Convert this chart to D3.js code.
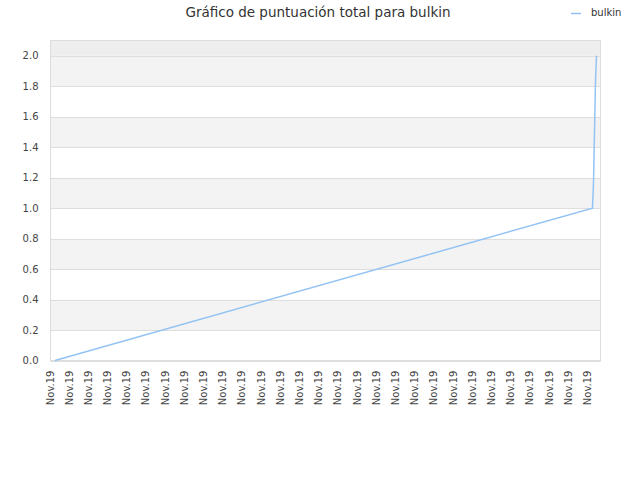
<!DOCTYPE html>
<html>
<head>
<meta charset="utf-8">
<script src="https://cdn.jsdelivr.net/npm/d3@7"></script>
<style>
  body { margin: 0; background: #fff; }
  text { font-family: "DejaVu Sans", sans-serif; }
</style>
</head>
<body>
<div id="container"></div>
<script>
const title = "Gráfico de puntuación total para bulkin";
const seriesName = "bulkin";
const times = ["2019-11-01T00:00", "2019-11-29T00:00", "2019-11-29T01:15", "2019-11-29T02:30", "2019-11-29T03:45", "2019-11-29T05:00"];
const scores = [0, 1.0, 1.1667, 1.5, 1.8333, 2.0];
const yTicks = [0, 0.2, 0.4, 0.6, 0.8, 1.0, 1.2, 1.4, 1.6, 1.8, 2.0];
const xTickCount = 29;
const xTickLabel = "Nov.19";

const width = 640;
const height = 480;
const plot = { left: 50.5, right: 600.5, top: 40.5, bottom: 360.5 };
const lineColor = "#92c3f4";

const parse = d3.timeParse("%Y-%m-%dT%H:%M");
const values = times.map((t, i) => ({ t: parse(t), v: scores[i] }));

let x = d3.scaleTime()
    .domain(d3.extent(values, d => d.t))
    .range([55, 596.5]);

let y = d3.scaleLinear()
    .domain([0, 2.1])
    .range([plot.bottom, plot.top]);

let svg = d3.select("#container").append("svg")
    .attr("width", width)
    .attr("height", height);

// alternating bands
let bands = yTicks.map((d, i) => ({ lo: d, hi: i < yTicks.length - 1 ? yTicks[i + 1] : y.domain()[1], i: i }));
svg.append("g")
    .selectAll("rect")
    .data(bands)
    .join("rect")
    .attr("x", plot.left)
    .attr("width", plot.right - plot.left)
    .attr("y", d => y(d.hi))
    .attr("height", d => y(d.lo) - y(d.hi))
    .attr("fill", d => d.i === yTicks.length - 1 ? "#eeeeee" : (d.i % 2 ? "#f3f3f3" : "#ffffff"));

// grid
svg.append("g")
    .attr("stroke", "#dedede")
    .selectAll("line")
    .data(yTicks)
    .join("line")
    .attr("x1", plot.left)
    .attr("x2", plot.right)
    .attr("y1", d => Math.round(y(d)) + 0.5)
    .attr("y2", d => Math.round(y(d)) + 0.5);

svg.append("rect")
    .attr("x", plot.left)
    .attr("y", plot.top)
    .attr("width", plot.right - plot.left)
    .attr("height", plot.bottom - plot.top)
    .attr("fill", "none")
    .attr("stroke", "#dddddd");

// y axis
let yAxis = g => g
    .attr("transform", `translate(${plot.left},0)`)
    .call(d3.axisLeft(y).tickValues(yTicks).tickFormat(d3.format(".1f")).tickSize(0).tickPadding(12))
    .call(g => g.select(".domain").remove())
    .call(g => g.selectAll("text")
        .attr("fill", "#444")
        .style("font-size", "10px")
        .style("font-family", "DejaVu Sans, sans-serif"));
svg.append("g").call(yAxis);

// x axis
let t0 = values[0].t, t1 = values[1].t;
let xTicks = d3.range(xTickCount).map(i => new Date(+t0 + i * (t1 - t0) / (xTickCount - 1)));
let xAxis = g => g
    .attr("transform", `translate(0,${plot.bottom})`)
    .call(d3.axisBottom(x).tickValues(xTicks).tickFormat(() => xTickLabel).tickSize(0).tickPadding(0))
    .call(g => g.select(".domain").remove())
    .call(g => g.selectAll("text")
        .attr("fill", "#444")
        .attr("text-anchor", "end")
        .attr("transform", "translate(-2,10) rotate(-90)")
        .attr("dy", 0)
        .attr("y", 0)
        .style("font-size", "10px")
        .style("font-family", "DejaVu Sans, sans-serif"));
svg.append("g").call(xAxis);

// series line
let line = d3.line()
    .x(d => x(d.t))
    .y(d => y(d.v));

svg.append("path")
    .attr("fill", "none")
    .attr("stroke", lineColor)
    .attr("stroke-width", 1.5)
    .attr("d", line(values));

// title
svg.append("text")
    .attr("x", 318)
    .attr("y", 17)
    .attr("text-anchor", "middle")
    .attr("fill", "#333")
    .style("font-size", "13.5px")
    .text(title);

// legend
svg.append("line")
    .attr("x1", 571)
    .attr("x2", 581)
    .attr("y1", 13.5)
    .attr("y2", 13.5)
    .attr("stroke", lineColor)
    .attr("stroke-width", 1.5);
svg.append("text")
    .attr("x", 591)
    .attr("y", 16)
    .attr("fill", "#333")
    .style("font-size", "10px")
    .text(seriesName);
</script>
</body>
</html>
